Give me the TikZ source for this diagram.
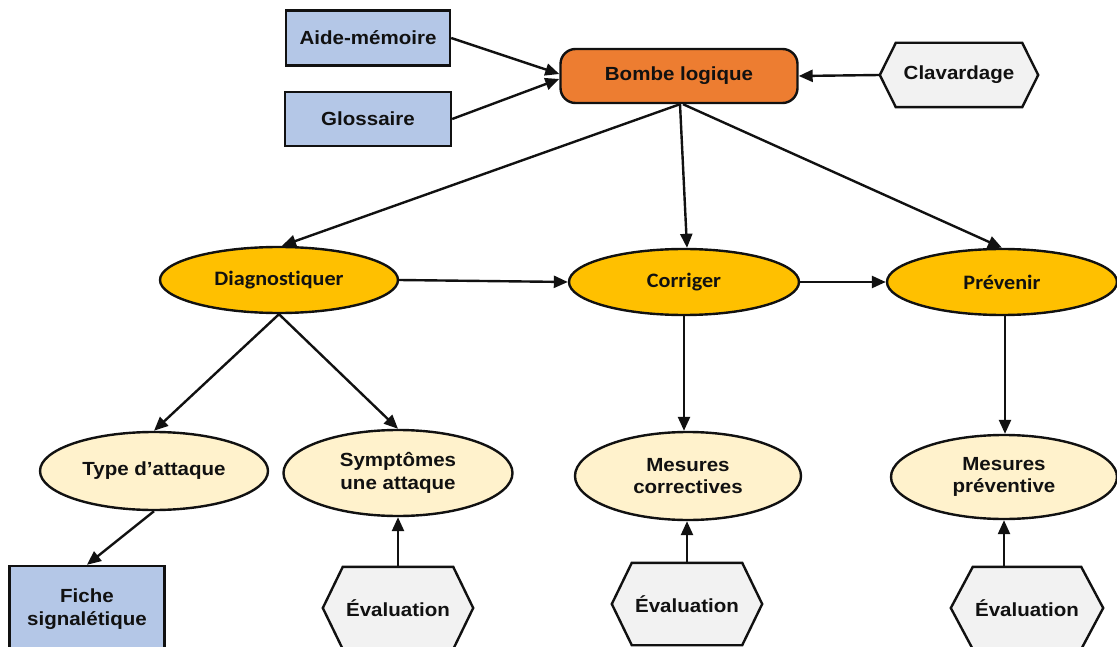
\documentclass[tikz,border=0pt]{standalone}
\usepackage{fontspec}
\setmainfont{Liberation Sans}
\newfontfamily\arialfont[FakeStretch=1.08]{Liberation Sans}
\newfontfamily\calibfont[FakeStretch=1.08,Ligatures=NoCommon]{Carlito}
\usetikzlibrary{shapes.geometric,arrows.meta,calc}

\definecolor{boxblue}{HTML}{B4C7E7}
\definecolor{bombeorange}{HTML}{ED7D31}
\definecolor{stepgold}{HTML}{FFC000}
\definecolor{subcream}{HTML}{FFF2CC}
\definecolor{hexgray}{HTML}{F2F2F2}
\definecolor{ink}{HTML}{111111}

\begin{document}
\begin{tikzpicture}[x=1pt,y=-1pt,
  every node/.style={align=center, text=ink, inner sep=0pt},
  base/.style={draw=ink, line width=2.4pt},
  armtext/.style={font=\arialfont\bfseries\fontsize{19}{22.5}\selectfont},
  bluebox/.style={base, armtext, fill=boxblue, minimum width=164, minimum height=55},
  bombebox/.style={base, armtext, fill=bombeorange, rounded corners=15,
    minimum width=237, minimum height=54},
  mainell/.style={base, ellipse, fill=stepgold,
    font=\calibfont\bfseries\fontsize{20.5}{24}\selectfont,
    minimum width=232, minimum height=66},
  subell/.style={base, ellipse, armtext, fill=subcream},
  hexlabel/.style={armtext},
  hexframe/.style={base, fill=hexgray, line join=miter},
  link/.style={line width=2.4pt, draw=ink, -{Triangle[length=14pt,width=12pt]}},
]
\useasboundingbox (0,0) rectangle (1117,647);
\clip (0,0) rectangle (1117,647);

% hexagon outlines (inner rectangle + pointed ends)
\newcommand\hexdraw[2]{%
  \draw[hexframe] (#1.north west) -- (#1.north east) -- ($(#1.east)+(#2,0)$)
    -- (#1.south east) -- (#1.south west) -- ($(#1.west)+(-#2,0)$) -- cycle;}

% top row
\node[bluebox] (aide) at (368,38) {Aide-mémoire};
\node[bluebox, minimum width=166, minimum height=54] (glos) at (368,119) {Glossaire};
\node[bombebox] (bomb) at (679,76) {Bombe logique};
\node[hexlabel, minimum width=126, minimum height=64] (clav) at (959,75) {};
\hexdraw{clav}{16}
\node[hexlabel] at (clav) {Clavardage};

% main steps
\node[mainell, minimum width=238] (diag) at (279,280) {Diagnostiquer};
\node[mainell, minimum width=230] (corr) at (684,282) {Corriger};
\node[mainell, minimum width=230] (prev) at (1002,282) {Prévenir};

% sub-steps
\node[subell, minimum width=228, minimum height=78] (type) at (154,471) {Type d’attaque};
\node[subell, minimum width=229, minimum height=86] (symp) at (398,473) {Symptômes\\une attaque};
\node[subell, minimum width=226, minimum height=88] (mcor) at (688,476) {Mesures\\correctives};
\node[subell, minimum width=226, minimum height=84] (mpre) at (1004,477) {Mesures\\préventive};

% bottom row
\node[bluebox, minimum width=155, minimum height=86] (fiche) at (87,609) {Fiche\\signalétique};
\node[hexlabel, minimum width=110, minimum height=82] (ev1) at (398,608) {};
\hexdraw{ev1}{20}
\node[hexlabel] at (ev1) {Évaluation};
\node[hexlabel, minimum width=110, minimum height=82] (ev2) at (687,604) {};
\hexdraw{ev2}{20}
\node[hexlabel] at (ev2) {Évaluation};
\node[hexlabel, minimum width=108, minimum height=82] (ev3) at (1027,608) {};
\hexdraw{ev3}{22}
\node[hexlabel] at (ev3) {Évaluation};

% connector end points
\coordinate (bdiag) at ($(bomb.south)+(1,0)$);
\coordinate (bprev) at ($(bomb.south)+(4,0)$);
\coordinate (pdown) at ($(prev.south)+(3,0)$);

% connectors into the central node
\draw[link] (aide.east) -- ($(bomb.west)+(0,-2)$);
\draw[link] (glos.east) -- ($(bomb.west)+(0,3)$);
\draw[link] ($(clav.west)+(-16,0)$) -- (bomb.east);

% from the central node to the steps
\draw[link] (bdiag) -- ($(diag.north)+(3,0)$);
\draw[link] (bdiag) -- ($(corr.north)+(3,0)$);
\draw[link] (bprev) -- (prev.north);

% between the steps
\draw[link] (diag.east) -- (corr.west);
\draw[link] (corr.east) -- (prev.west);

% steps to sub-steps
\draw[link] (diag.south) -- (type.north);
\draw[link] (diag.south) -- (symp.north);
\draw[link] (corr.south) -- (corr.south |- mcor.north);
\draw[link] (pdown) -- (pdown |- mpre.north);
\draw[link] (type.south) -- (fiche.north);

% evaluations feeding the sub-steps
\draw[link] (ev1.north) -- (symp.south);
\draw[link] (ev2.north) -- (ev2.north |- mcor.south);
\draw[link] (ev3.north -| mpre.south) -- (mpre.south);
\end{tikzpicture}
\end{document}
